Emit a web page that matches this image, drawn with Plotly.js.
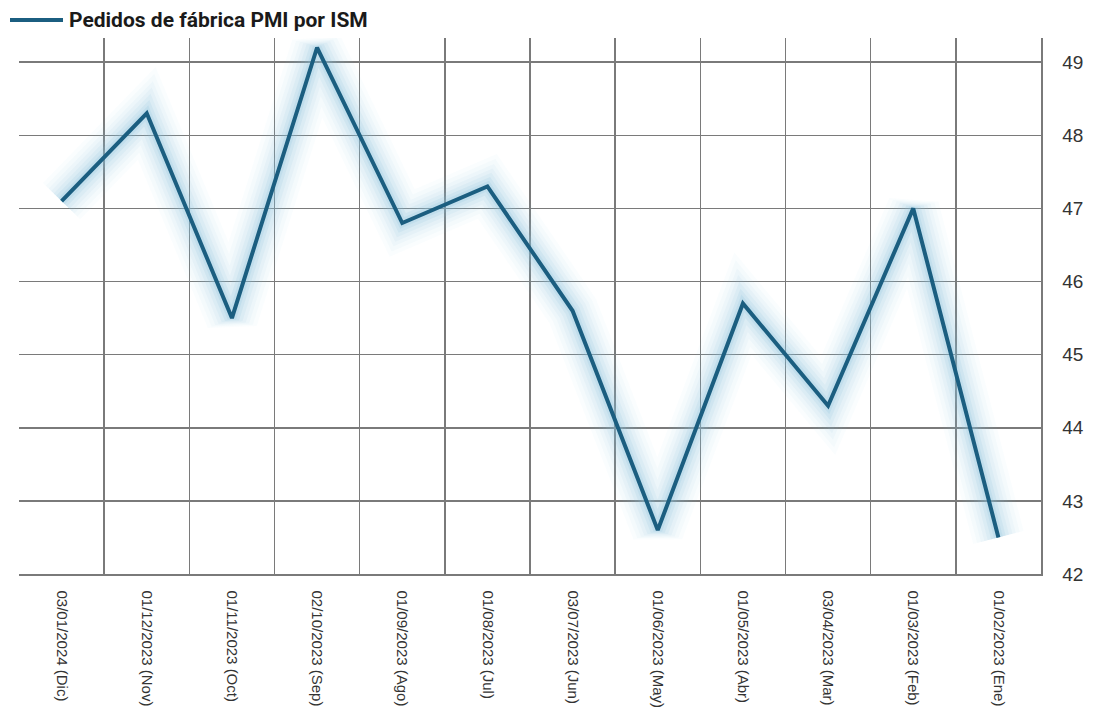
<!DOCTYPE html>
<html>
<head>
<meta charset="utf-8">
<script src="https://cdn.plot.ly/plotly-3.0.1.min.js"></script>
<style>html,body{margin:0;padding:0;background:#fff;}#chart{width:1093px;height:719px;}</style>
</head>
<body>
<div id="chart"></div>
<script>
const categories = [
  "03/01/2024 (Dic)", "01/12/2023 (Nov)", "01/11/2023 (Oct)", "02/10/2023 (Sep)",
  "01/09/2023 (Ago)", "01/08/2023 (Jul)", "03/07/2023 (Jun)", "01/06/2023 (May)",
  "01/05/2023 (Abr)", "03/04/2023 (Mar)", "01/03/2023 (Feb)", "01/02/2023 (Ene)"
];
const pmiValues = [47.1, 48.3, 45.5, 49.2, 46.8, 47.3, 45.6, 42.6, 45.7, 44.3, 47.0, 42.5];
const seriesName = "Pedidos de fábrica PMI por ISM";

const W = 1093, H = 719;
const M = {l: 19, r: 52, t: 38, b: 145};
const pw = W - M.l - M.r, ph = H - M.t - M.b;
const px = v => (v - M.l) / pw;
const py = v => (H - M.b - v) / ph;

const lineColor = "#1b5e80";
const glowLayers = [
  {w: 52, a: 0.04}, {w: 44, a: 0.05}, {w: 36, a: 0.06}, {w: 29, a: 0.08},
  {w: 22, a: 0.10}, {w: 15, a: 0.14}, {w: 9, a: 0.18}
];
const traces = glowLayers.map(g => ({
  x: categories, y: pmiValues, type: "scatter", mode: "lines",
  line: {color: "rgba(135,192,222," + g.a + ")", width: g.w},
  showlegend: false, hoverinfo: "skip"
}));
traces.push({
  x: categories, y: pmiValues, type: "scatter", mode: "lines",
  name: seriesName, showlegend: false,
  line: {color: lineColor, width: 4}
});

const layout = {
  width: W, height: H,
  margin: {l: M.l, r: M.r, t: M.t, b: M.b, autoexpand: false},
  paper_bgcolor: "#fff", plot_bgcolor: "#fff",
  showlegend: false,
  shapes: [{
    type: "line", xref: "paper", yref: "paper",
    x0: px(10), x1: px(63), y0: py(20), y1: py(20),
    line: {color: lineColor, width: 4}
  }],
  annotations: [{
    xref: "paper", yref: "paper", x: px(67), y: py(20),
    xanchor: "left", yanchor: "middle", showarrow: false,
    text: "<b>" + seriesName + "</b>",
    font: {family: "Roboto, 'Liberation Sans', sans-serif", size: 21, color: "#1a1a1a"}
  }],
  xaxis: {
    type: "category", range: [-0.5, 11.5],
    tickson: "boundaries", showgrid: true, gridcolor: "#7a7a7a", gridwidth: 1.5,
    showline: true, linecolor: "#7a7a7a", linewidth: 1.5,
    tickangle: 90, ticks: "", ticklabelstandoff: 12,
    tickfont: {family: "'Liberation Sans', Arial, sans-serif", size: 15, color: "#333"}
  },
  yaxis: {
    side: "right", range: [42, 49.33], tick0: 42, dtick: 1,
    showgrid: true, gridcolor: "#7a7a7a", gridwidth: 1.5,
    showline: true, linecolor: "#7a7a7a", linewidth: 1.5,
    zeroline: false,
    ticks: "outside", ticklen: 16, tickcolor: "rgba(0,0,0,0)",
    tickfont: {family: "'Liberation Sans', Arial, sans-serif", size: 19, color: "#333"}
  }
};
Plotly.newPlot("chart", traces, layout, {displayModeBar: false, staticPlot: true});
</script>
</body>
</html>
